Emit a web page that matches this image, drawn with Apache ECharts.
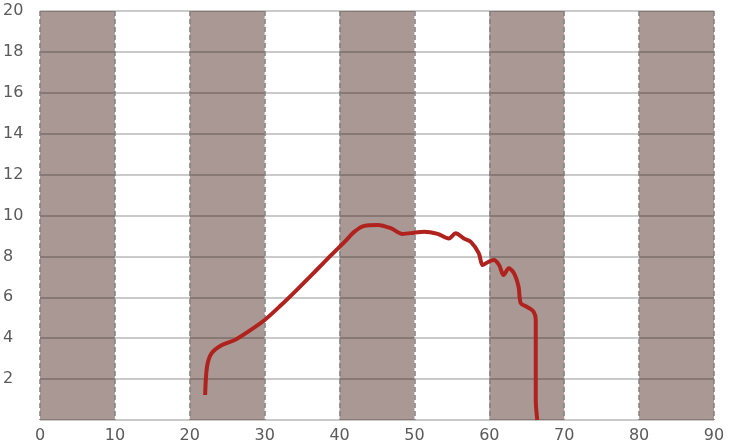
<!DOCTYPE html>
<html><head><meta charset="utf-8">
<script src="https://cdn.jsdelivr.net/npm/echarts@6/dist/echarts.min.js"></script>
<style>html,body{margin:0;padding:0;background:#fff}#c{width:750px;height:448px}</style>
</head><body><div id="c"></div>
<script>
const curveX = [22.05,22.3,22.9,24.3,26.0,27.8,30.0,32.2,34.5,36.7,38.9,40.7,42.0,43.3,45.1,46.9,48.4,50.0,51.3,53.1,54.6,55.5,56.6,57.5,58.6,59.1,59.9,60.6,61.3,61.9,62.6,63.3,63.9,64.2,65.0,65.9,66.2,66.2,66.2,66.4];
const curveY = [1.22,2.6,3.26,3.67,3.91,4.32,4.89,5.62,6.44,7.25,8.07,8.72,9.21,9.49,9.54,9.37,9.10,9.16,9.21,9.10,8.88,9.13,8.88,8.72,8.15,7.58,7.74,7.82,7.58,7.09,7.42,7.17,6.52,5.71,5.54,5.30,4.89,3.42,0.98,0];
const bands = [[0,10],[20,30],[40,50],[60,70],[80,90]];
const xTicks = [0,10,20,30,40,50,60,70,80,90];
const yTicks = [0,2,4,6,8,10,12,14,16,18,20];

const chart = echarts.init(document.getElementById('c'));
chart.setOption({
  animation:false,
  grid:{left:37,right:36,top:11,bottom:28},
  xAxis:{type:'value',min:xTicks[0],max:xTicks[xTicks.length-1],interval:10,z:2,
    axisLine:{show:false},axisTick:{show:false},
    axisLabel:{color:'#5a5a5a',fontFamily:'DejaVu Sans',fontSize:16,margin:8},
    splitLine:{show:true,lineStyle:{color:'#808080',width:1.5,type:[5,3]}}},
  yAxis:{type:'value',min:yTicks[0],max:yTicks[yTicks.length-1],interval:2,z:2,
    axisLine:{show:false},axisTick:{show:false},
    axisLabel:{color:'#5a5a5a',fontFamily:'DejaVu Sans',fontSize:16,margin:37,align:'left',showMinLabel:false},
    splitLine:{show:true,lineStyle:{color:'rgba(0,0,0,0.28)',width:1.5}}},
  series:[
    {type:'line',data:[],silent:true,
     markArea:{silent:true,itemStyle:{color:'#a99893'},
       data:bands.map(b=>[{xAxis:b[0]},{xAxis:b[1]}])}},
    {type:'line',z:3,smooth:0.3,showSymbol:false,
     lineStyle:{color:'#b0221e',width:4},
     data:curveX.map((x,i)=>[x,curveY[i]])}
  ]
});
</script></body></html>
